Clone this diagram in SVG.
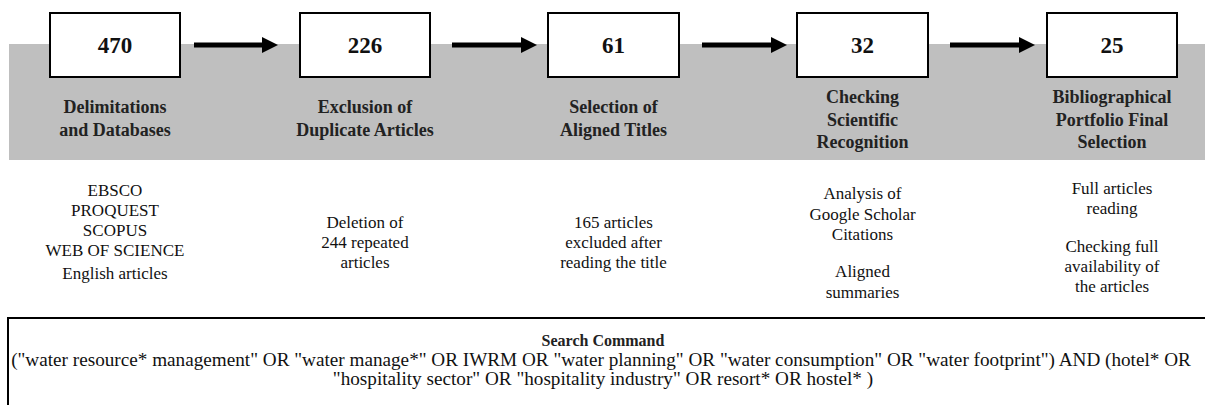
<svg xmlns="http://www.w3.org/2000/svg" width="1205" height="405" viewBox="0 0 1205 405">
<defs>
<style>
.box{fill:#fff;stroke:#000;stroke-width:2}
.num{font-weight:bold;font-size:23px;text-anchor:middle;fill:#111}
.lbl{font-weight:bold;font-size:18px;text-anchor:middle;fill:#222}
.txt{font-size:17px;text-anchor:middle;fill:#111}
.cmd{font-size:19.2px;text-anchor:middle;fill:#111}
.shaft{stroke:#000;stroke-width:5;fill:none}
</style>
<marker id="ah" markerUnits="userSpaceOnUse" markerWidth="16" markerHeight="16" refX="0" refY="8" orient="auto">
<path d="M0,0 L16,8 L0,16 Z" fill="#000"/>
</marker>
</defs>
<g font-family="Liberation Serif, Tinos, Times New Roman, DejaVu Serif, serif">
<rect x="9" y="44" width="1196" height="116" fill="#bfbfbf"/>
<g id="connectors">
<line class="shaft" x1="194" y1="45" x2="262" y2="45" marker-end="url(#ah)"/>
<line class="shaft" x1="452" y1="45" x2="521" y2="45" marker-end="url(#ah)"/>
<line class="shaft" x1="702" y1="45" x2="771" y2="45" marker-end="url(#ah)"/>
<line class="shaft" x1="950" y1="45" x2="1019" y2="45" marker-end="url(#ah)"/>
</g>
<g id="step1">
<rect class="box" x="50" y="13" width="130" height="64"/>
<text class="num" x="115" y="53">470</text>
<text class="lbl" x="115" y="113">Delimitations</text>
<text class="lbl" x="115" y="136">and Databases</text>
<text class="txt" x="115" y="196">EBSCO</text>
<text class="txt" x="115" y="216">PROQUEST</text>
<text class="txt" x="115" y="236">SCOPUS</text>
<text class="txt" x="115" y="256">WEB OF SCIENCE</text>
<text class="txt" x="115" y="279">English articles</text>
</g>
<g id="step2">
<rect class="box" x="300" y="13" width="130" height="64"/>
<text class="num" x="365" y="53">226</text>
<text class="lbl" x="365" y="113">Exclusion of</text>
<text class="lbl" x="365" y="136">Duplicate Articles</text>
<text class="txt" x="365" y="228">Deletion of</text>
<text class="txt" x="365" y="248">244 repeated</text>
<text class="txt" x="365" y="268">articles</text>
</g>
<g id="step3">
<rect class="box" x="548" y="13" width="131" height="64"/>
<text class="num" x="613.5" y="53">61</text>
<text class="lbl" x="613.5" y="113">Selection of</text>
<text class="lbl" x="613.5" y="136">Aligned Titles</text>
<text class="txt" x="613.5" y="228">165 articles</text>
<text class="txt" x="613.5" y="248">excluded after</text>
<text class="txt" x="613.5" y="268">reading the title</text>
</g>
<g id="step4">
<rect class="box" x="797" y="13" width="131" height="64"/>
<text class="num" x="862.5" y="53">32</text>
<text class="lbl" x="862.5" y="103">Checking</text>
<text class="lbl" x="862.5" y="126">Scientific</text>
<text class="lbl" x="862.5" y="148">Recognition</text>
<text class="txt" x="862.5" y="199">Analysis of</text>
<text class="txt" x="862.5" y="220">Google Scholar</text>
<text class="txt" x="862.5" y="240">Citations</text>
<text class="txt" x="862.5" y="277">Aligned</text>
<text class="txt" x="862.5" y="298">summaries</text>
</g>
<g id="step5">
<rect class="box" x="1047" y="13" width="130" height="64"/>
<text class="num" x="1112" y="53">25</text>
<text class="lbl" x="1112" y="103">Bibliographical</text>
<text class="lbl" x="1112" y="126">Portfolio Final</text>
<text class="lbl" x="1112" y="148">Selection</text>
<text class="txt" x="1112" y="194">Full articles</text>
<text class="txt" x="1112" y="214">reading</text>
<text class="txt" x="1112" y="252">Checking full</text>
<text class="txt" x="1112" y="272">availability of</text>
<text class="txt" x="1112" y="292">the articles</text>
</g>
<g id="search">
<rect x="8" y="318" width="1210" height="100" fill="#fff" stroke="#000" stroke-width="2"/>
<text class="lbl" x="603" y="346" style="font-size:16px">Search Command</text>
<text class="cmd" x="601" y="366">("water resource* management" OR "water manage*" OR IWRM OR "water planning" OR "water consumption" OR "water footprint") AND (hotel* OR</text>
<text class="cmd" x="603" y="385">"hospitality sector" OR "hospitality industry" OR resort* OR hostel* )</text>
</g>
</g>
</svg>
